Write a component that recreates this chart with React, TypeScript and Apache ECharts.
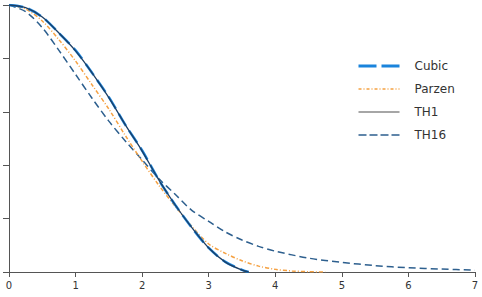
import React, { useEffect, useRef } from "react";
import * as echarts from "echarts";

const xs = [0, 0.25, 0.5, 0.75, 1, 1.25, 1.5, 1.75, 2, 2.25, 2.5, 2.75, 3, 3.25, 3.5, 3.6];
const cubic = [1, 0.99, 0.955, 0.895, 0.83, 0.745, 0.655, 0.55, 0.455, 0.345, 0.25, 0.165, 0.09, 0.038, 0.008, 0];
const th1 = [1, 0.99, 0.955, 0.895, 0.828, 0.745, 0.653, 0.55, 0.453, 0.345, 0.25, 0.165, 0.09, 0.037, 0.007, 0];

const xsParzen = [0, 0.25, 0.5, 0.75, 1, 1.25, 1.5, 1.75, 2, 2.25, 2.5, 2.75, 3, 3.25, 3.5, 3.75, 4, 4.25, 4.5, 4.75];
const parzen = [1, 0.985, 0.94, 0.87, 0.79, 0.7, 0.61, 0.51, 0.415, 0.325, 0.245, 0.17, 0.105, 0.07, 0.042, 0.022, 0.01, 0.004, 0.001, 0];

const xsTH16 = [0, 0.25, 0.5, 0.75, 1, 1.25, 1.5, 1.75, 2, 2.25, 2.5, 2.75, 3, 3.25, 3.5, 3.75, 4, 4.5, 5, 5.5, 6, 6.5, 7];
const th16 = [1, 0.975, 0.915, 0.83, 0.74, 0.65, 0.565, 0.49, 0.42, 0.35, 0.29, 0.23, 0.19, 0.15, 0.12, 0.096, 0.078, 0.052, 0.036, 0.024, 0.016, 0.011, 0.007];

const legendNames = ["Cubic", "Parzen", "TH1", "TH16"];
const xTicks = { min: 0, max: 7, interval: 1 };
const yTicks = { min: 0, max: 1, interval: 0.2 };

const pair = (x: number[], y: number[]) => x.map((v, i) => [v, y[i]]);

export default function App() {
  const ref = useRef<HTMLDivElement>(null);
  useEffect(() => {
    if (!ref.current) return;
    const chart = echarts.init(ref.current, null, { renderer: "svg" });
    const font = "'DejaVu Sans', 'Liberation Sans', sans-serif";
    const base = { type: "line", smooth: 0.3, showSymbol: false, symbol: "none" };
    const legendStyles: Record<string, any> = {
      Cubic: { color: "#1a84dc", width: 3, type: [18, 5] },
      Parzen: { color: "#f5a142", width: 1.5, type: [3, 2, 1, 2] },
      TH1: { color: "#888", width: 1.5, type: "solid" },
      TH16: { color: "#2d5f8e", width: 1.5, type: [8, 3] },
    };
    chart.setOption({
      animation: false,
      textStyle: { fontFamily: font },
      grid: { left: 9, right: 7, top: 5, bottom: 25 },
      legend: {
        data: legendNames.map((n) => ({ name: n, lineStyle: legendStyles[n] })),
        orient: "vertical",
        left: 352,
        top: 54,
        itemWidth: 41,
        itemHeight: 14,
        itemGap: 9,
        itemStyle: { opacity: 0 },
        textStyle: { fontSize: 12, color: "#333", fontFamily: font, padding: [0, 0, 0, 10], lineHeight: 14 },
      },
      xAxis: {
        type: "value",
        min: xTicks.min,
        max: xTicks.max,
        interval: xTicks.interval,
        axisLine: { lineStyle: { color: "#555", width: 1 } },
        axisTick: { show: true, length: 5, lineStyle: { color: "#555" } },
        axisLabel: { fontSize: 10, color: "#333", margin: 8, fontFamily: font },
        splitLine: { show: false },
      },
      yAxis: {
        type: "value",
        min: yTicks.min,
        max: yTicks.max,
        interval: yTicks.interval,
        axisLine: { show: true, lineStyle: { color: "#555", width: 1 } },
        axisTick: { show: true, length: 6, lineStyle: { color: "#555" } },
        axisLabel: { show: false },
        splitLine: { show: false },
      },
      series: [
        {
          ...base,
          name: "TH16",
          data: pair(xsTH16, th16),
          lineStyle: { color: "#2d5f8e", width: 1.5, type: [7, 4] },
          itemStyle: { color: "#2d5f8e" },
        },
        {
          ...base,
          name: "Parzen",
          data: pair(xsParzen, parzen),
          lineStyle: { color: "#f5a142", width: 1.5, type: [4, 2, 1, 2] },
          itemStyle: { color: "#f5a142" },
        },
        {
          ...base,
          name: "Cubic",
          data: pair(xs, cubic),
          lineStyle: { color: "#1a84dc", width: 2.5, type: [14, 6] },
          itemStyle: { color: "#1a84dc" },
        },
        {
          ...base,
          name: "TH1",
          data: pair(xs, th1),
          lineStyle: { color: "#1c3f66", width: 1.3, type: "solid" },
          itemStyle: { color: "#888" },
        },
      ],
    });
    return () => chart.dispose();
  }, []);
  return (
    <div
      ref={ref}
      style={{ position: "absolute", left: 0, top: 0, width: 482, height: 297, background: "#fff" }}
    />
  );
}
